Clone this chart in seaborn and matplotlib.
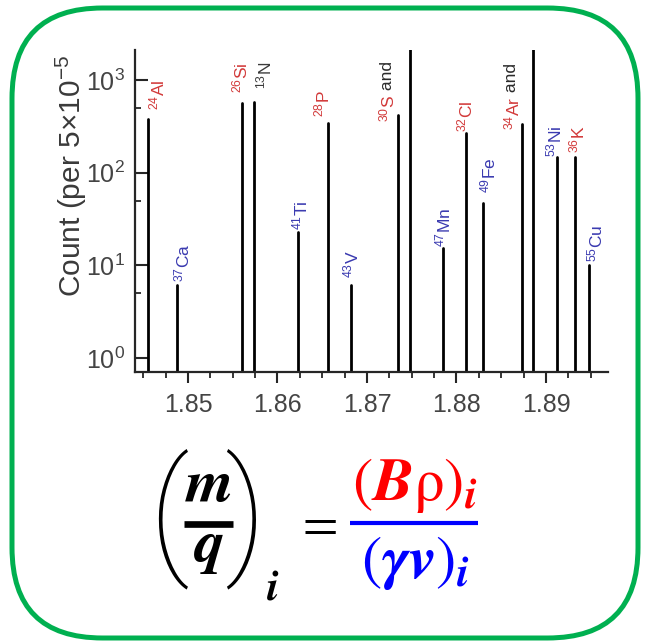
import numpy as np
import pandas as pd
import matplotlib
matplotlib.use("Agg")
import matplotlib.pyplot as plt
import seaborn as sns
from matplotlib.patches import FancyBboxPatch
from matplotlib.lines import Line2D
from matplotlib.ticker import FixedLocator, MultipleLocator, NullFormatter

# ---------------- data ----------------
isotopes = ["$^{24}$Al", "$^{37}$Ca", "$^{26}$Si", "$^{13}$N", "$^{41}$Ti", "$^{28}$P",
            "$^{43}$V", "$^{30}$S", "", "$^{47}$Mn", "$^{32}$Cl", "$^{49}$Fe",
            "$^{34}$Ar", "", "$^{53}$Ni", "$^{36}$K", "$^{55}$Cu"]
label_suffix = ["", "", "", "", "", "", "", " and", "", "", "", "",
                " and", "", "", "", ""]
mq = [1.84553, 1.84877, 1.85603, 1.85737, 1.86229, 1.86564, 1.86821, 1.87346,
      1.87480, 1.87849, 1.88106, 1.88296, 1.88732, 1.88855, 1.89123, 1.89324, 1.89480]
counts = [379, 6.1, 565, 579, 22.9, 344, 6.1, 419, 5000, 15.4, 268, 47, 335, 5000,
          147, 147, 10.1]
groups = ["red", "blue", "red", "dark", "blue", "red", "blue", "red", "none", "blue",
          "red", "blue", "red", "none", "blue", "red", "blue"]
x_ticks = [1.85, 1.86, 1.87, 1.88, 1.89]
x_ticklabels = ["1.85", "1.86", "1.87", "1.88", "1.89"]
y_ticks = [1, 10, 100, 1000]

# label layout (pixel offsets of text relative to peak tops)
label_dx = [9, 5, -2, 11, 2, -6, 0, -10, 0, 0, -1, 5, -10, 0, -3, 2, 7]
label_dy = [9, 3, 10, 13, 2, 6, 7, -7, 0, 1, 1, 10, -6, 0, 0, 4, 3]
group_colors = {"red": "#d23a3a", "blue": "#3a3ab0", "dark": "#3a3a3a", "none": "black"}

# ---------------- style ----------------
sns.set_style("ticks")
plt.rcParams["font.family"] = ["Liberation Sans", "DejaVu Sans"]
plt.rcParams["mathtext.fontset"] = "custom"
plt.rcParams["mathtext.rm"] = "Liberation Sans"
plt.rcParams["mathtext.it"] = "Liberation Sans:italic"
plt.rcParams["mathtext.bf"] = "Liberation Sans:bold"

W, H = 646, 644
fig = plt.figure(figsize=(W / 100, H / 100), dpi=100)
fig.patch.set_facecolor("white")

ax = fig.add_axes([135 / W, 1 - 372 / H, (608 - 135) / W, (372 - 50) / H])
ax.set_yscale("log")

rows = []
for i, (x, c) in enumerate(zip(mq, counts)):
    rows.append({"peak": i, "mq": x, "count": 0.1})
    rows.append({"peak": i, "mq": x, "count": c})
df = pd.DataFrame(rows)

sns.lineplot(data=df, x="mq", y="count", units="peak", estimator=None, sort=False,
             color="black", linewidth=2.0, ax=ax, legend=False)

ax.set_xlim(1.84408, 1.89693)
ax.set_ylim(0.706, 2110)
ax.set_xlabel("")
ax.set_ylabel("")

for s in ["top", "right"]:
    ax.spines[s].set_visible(False)
for s in ["left", "bottom"]:
    ax.spines[s].set_linewidth(1.6)
    ax.spines[s].set_color("#262626")

ax.set_xticks(x_ticks)
ax.set_xticklabels(x_ticklabels)
ax.xaxis.set_minor_locator(MultipleLocator(0.0025))
ax.yaxis.set_major_locator(FixedLocator(y_ticks))
ax.yaxis.set_minor_locator(FixedLocator([5, 50, 500]))
ax.yaxis.set_minor_formatter(NullFormatter())

ax.tick_params(axis="x", which="major", direction="out", length=8, width=1.5,
               labelsize=18, pad=7, colors="#262626", labelcolor="#444444")
ax.tick_params(axis="x", which="minor", direction="out", length=4, width=1.3,
               colors="#262626")
ax.tick_params(axis="y", which="major", direction="in", length=9.5, width=1.5,
               labelsize=18, pad=7, colors="#262626", labelcolor="#444444")
ax.tick_params(axis="y", which="minor", direction="in", length=4.5, width=1.3,
               colors="#262626")

# peak labels
for i, lab in enumerate(isotopes):
    if not lab:
        continue
    col = group_colors[groups[i]]
    t = ax.annotate(lab, xy=(mq[i], counts[i]), xycoords="data",
                    xytext=(label_dx[i] * 0.72, label_dy[i] * 0.72),
                    textcoords="offset points", rotation=90, ha="center", va="bottom",
                    fontsize=12.5, color=col, annotation_clip=False)
    if label_suffix[i]:
        ax.annotate(label_suffix[i], xy=(0.5, 1.0), xycoords=t, rotation=90,
                    ha="center", va="bottom", fontsize=12.5, color="#2a2a2a",
                    annotation_clip=False)

# y label
fig.text(71 / W, 1 - 297 / H, "Count (per 5×10$^{-5}$", rotation=90,
         ha="center", va="bottom", fontsize=21.5, color="#3a3a3a")

# ---------------- equation ----------------
def px(x, y):
    return x / W, 1 - y / H

eq_fs = 44
# left side: (m/q)_i
fig.text(*px(168, 519), "(", family="Roboto", fontweight=100, fontsize=99,
         ha="center", va="center", color="black")
fig.text(*px(245, 519), ")", family="Roboto", fontweight=100, fontsize=99,
         ha="center", va="center", color="black")
fig.text(*px(209, 502), r"$\boldsymbol{m}$", ha="center", va="baseline",
         fontsize=eq_fs, color="black", math_fontfamily="stix")
fig.text(*px(208, 562), r"$\boldsymbol{q}$", ha="center", va="baseline",
         fontsize=eq_fs, color="black", math_fontfamily="stix")
fig.add_artist(Line2D([184 / W, 233 / W], [1 - 523.5 / H] * 2,
                      transform=fig.transFigure, color="black", linewidth=4.8,
                      solid_capstyle="butt"))
fig.text(*px(273, 600), r"$\boldsymbol{i}$", ha="center", va="baseline",
         fontsize=31, color="black", math_fontfamily="stix")
# equals
fig.text(*px(316, 524), r"$=$", ha="center", va="center", fontsize=37,
         color="black", math_fontfamily="stix")
# right side
fig.text(*px(415, 500), r"$(\boldsymbol{B}\mathrm{\rho})_{\boldsymbol{i}}$",
         ha="center", va="baseline", fontsize=eq_fs, color="#ff0000",
         math_fontfamily="stix")
fig.text(*px(415, 578), r"$(\boldsymbol{\gamma}\boldsymbol{v})_{\boldsymbol{i}}$",
         ha="center", va="baseline", fontsize=eq_fs, color="#0000ff",
         math_fontfamily="stix")
fig.add_artist(Line2D([350 / W, 478 / W], [1 - 523 / H] * 2,
                      transform=fig.transFigure, color="#0000ff", linewidth=3,
                      solid_capstyle="butt"))

# green rounded frame
frame = FancyBboxPatch((12 / W, 1 - 638 / H), (638 - 12) / W, (638 - 8) / H,
                       boxstyle="round,pad=0,rounding_size=0.14",
                       transform=fig.transFigure, facecolor="none",
                       edgecolor="#00b050", linewidth=3.6, mutation_aspect=W / H)
fig.add_artist(frame)

fig.savefig("out.png", dpi=100, facecolor="white")
